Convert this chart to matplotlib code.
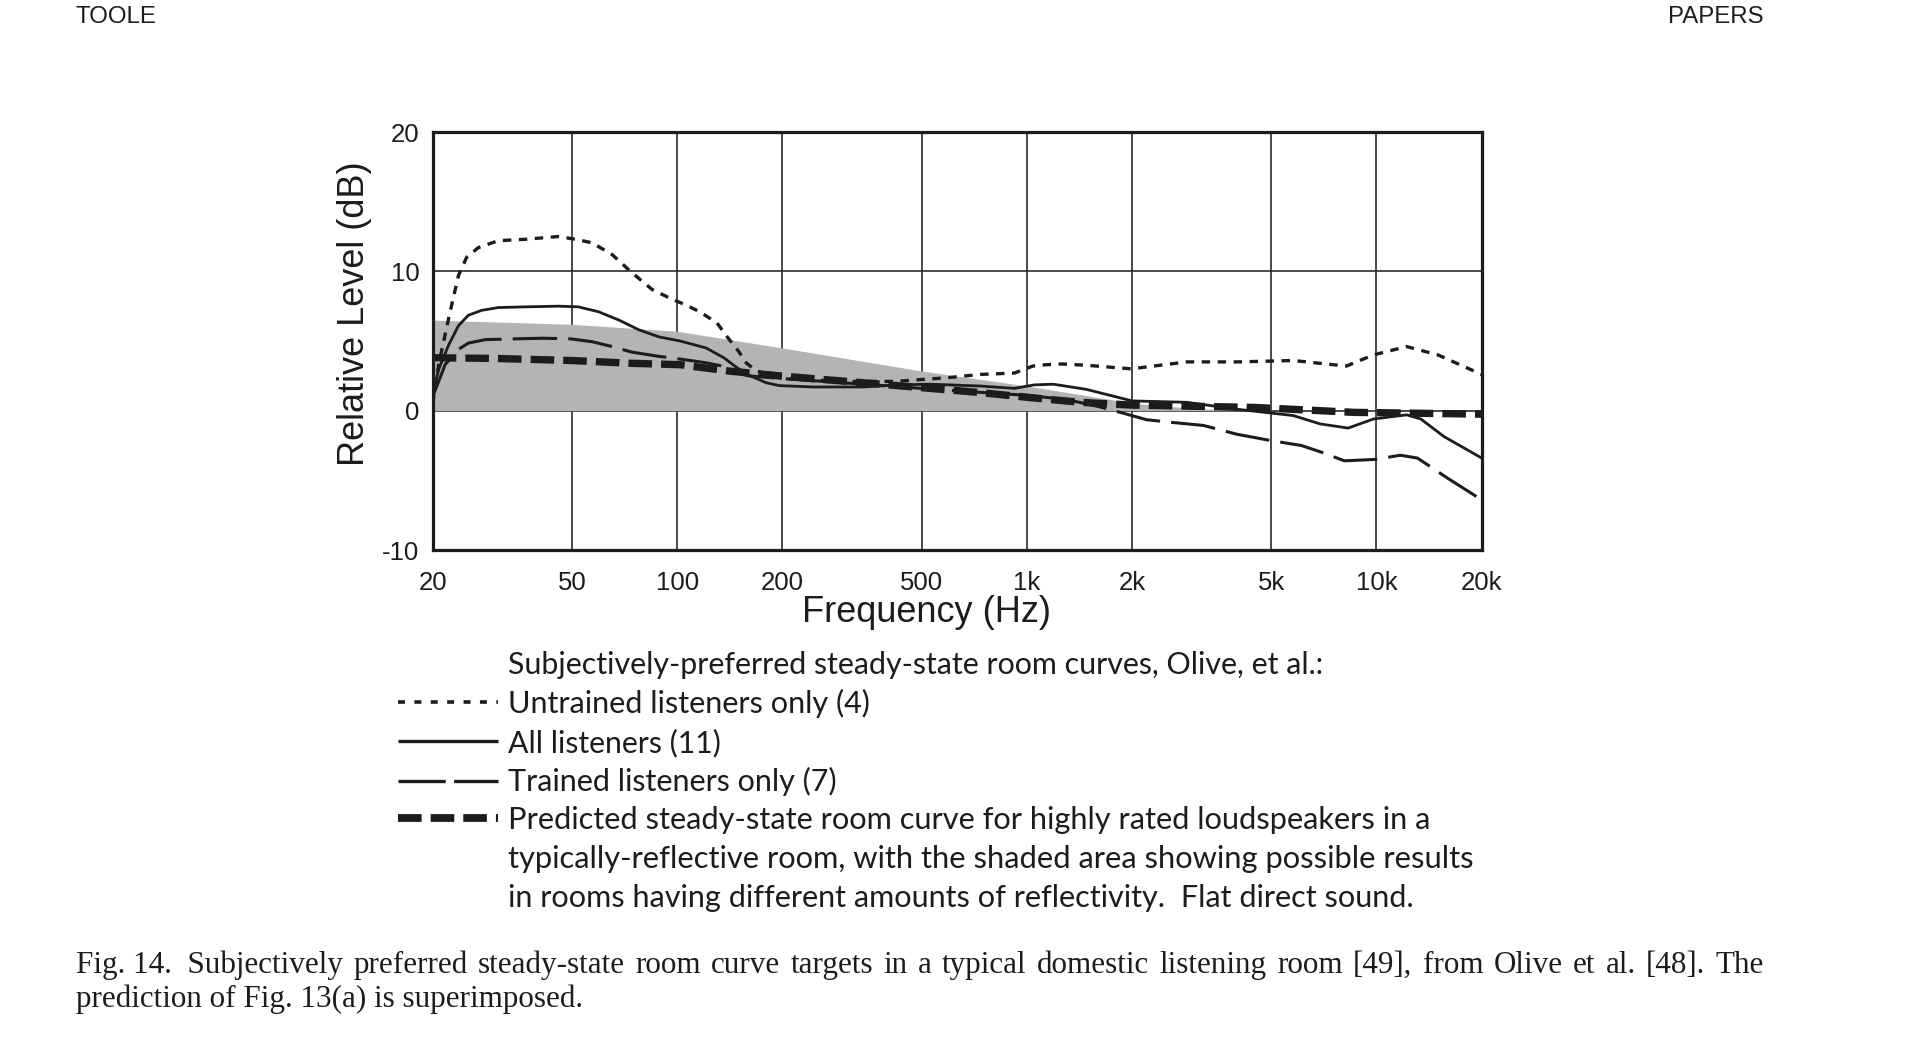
import matplotlib
matplotlib.use('Agg')
import matplotlib.pyplot as plt
from matplotlib.ticker import NullLocator

plt.rcParams['lines.scale_dashes'] = False

W, H = 1920, 1044
INK = '#1c1c1c'

# ---------------- data ----------------
untrained_f = [20, 20.8, 22.2, 23.7, 25, 27, 30.8, 36.8, 45.8, 51.2, 57.1, 65.2, 74.3, 84.8,
               96.7, 105.6, 116, 130, 140, 150, 158, 169, 200, 300, 420, 590, 735, 922,
               1040, 1140, 1260, 1480, 1990, 2870, 4000, 5780, 8200, 9800, 12200, 15000, 20000]
untrained_db = [0.5, 3.3, 6.6, 9.7, 11.0, 11.7, 12.2, 12.3, 12.5, 12.3, 12.05, 11.2, 9.9, 8.7,
                8.0, 7.6, 7.1, 6.3, 5.2, 4.25, 3.4, 2.84, 2.3, 2.1, 2.1, 2.36, 2.6, 2.7,
                3.2, 3.3, 3.35, 3.26, 3.0, 3.5, 3.5, 3.6, 3.2, 4.0, 4.6, 4.0, 2.6]

all_f = [20, 20.8, 22.2, 23.7, 25.3, 27.6, 30.8, 36.8, 45.8, 52.2, 59.6, 68.2, 77.8, 88.6,
         102, 121, 136, 148, 162, 180, 196, 245, 341, 424, 529, 735, 922, 1050, 1190, 1480,
         2000, 2870, 4000, 5780, 6900, 8300, 9800, 12200, 13400, 15600, 20000]
all_db = [1.2, 2.95, 4.7, 6.1, 6.85, 7.2, 7.4, 7.45, 7.5, 7.45, 7.1, 6.5, 5.8, 5.3,
          5.0, 4.5, 3.8, 3.1, 2.5, 2.0, 1.8, 1.7, 1.7, 1.85, 1.9, 1.77, 1.6, 1.85, 1.9, 1.53,
          0.7, 0.6, 0.1, -0.35, -0.95, -1.25, -0.6, -0.3, -0.6, -1.86, -3.4]

trained_f = [20, 21.7, 23.7, 25.3, 28.3, 33.9, 41.3, 49.7, 57.1, 65.2, 74.3, 88.6, 105.6,
             120, 135, 144, 160, 200, 300, 500, 700, 1000, 1300, 1600, 1900, 2200, 2570,
             3200, 4000, 5000, 6100, 7000, 8100, 9900, 11700, 13100, 16100, 20000]
trained_db = [1.0, 3.3, 4.4, 4.85, 5.1, 5.15, 5.2, 5.15, 4.95, 4.6, 4.2, 3.9, 3.65,
              3.45, 3.2, 2.8, 2.5, 2.3, 2.0, 1.6, 1.35, 1.1, 0.8, 0.3, -0.2, -0.65, -0.83,
              -1.06, -1.7, -2.15, -2.5, -3.0, -3.6, -3.5, -3.2, -3.4, -4.9, -6.4]

pred_f = [20, 30, 50, 74, 102, 141, 196, 306, 474, 735, 1020, 1420, 2000, 4500, 8600, 20000]
pred_db = [3.8, 3.75, 3.6, 3.4, 3.3, 2.84, 2.5, 2.1, 1.7, 1.3, 0.94, 0.6, 0.4, 0.23, -0.12, -0.25]

shade_f = [20, 50, 100, 200, 500, 1000, 2000, 3000, 4500]
shade_db = [6.5, 6.2, 5.7, 4.5, 2.85, 1.77, 0.55, 0.15, 0.0]

xticks = [20, 50, 100, 200, 500, 1000, 2000, 5000, 10000, 20000]
xtick_labels = ['20', '50', '100', '200', '500', '1k', '2k', '5k', '10k', '20k']
yticks = [-10, 0, 10, 20]
ytick_labels = ['-10', '0', '10', '20']

legend_heading = 'Subjectively-preferred steady-state room curves, Olive, et al.:'
legend_labels = ['Untrained listeners only (4)', 'All listeners (11)', 'Trained listeners only (7)',
                 'Predicted steady-state room curve for highly rated loudspeakers in a']
legend_extra = ['typically-reflective room, with the shaded area showing possible results',
                'in rooms having different amounts of reflectivity.  Flat direct sound.']
caption = ['Fig. 14.  Subjectively preferred steady-state room curve targets in a typical domestic '
           'listening room [49], from Olive et al. [48]. The',
           'prediction of Fig. 13(a) is superimposed.']

# ---------------- figure ----------------
fig = plt.figure(figsize=(W / 100, H / 100), dpi=100)
fig.patch.set_facecolor('white')


def px_rect(l, t, r, b):
    return [l / W, 1 - b / H, (r - l) / W, (b - t) / H]


ax = fig.add_axes(px_rect(432.7, 132, 1481.7, 550))
ax.set_xscale('log')
ax.set_xlim(20, 20000)
ax.set_ylim(-10, 20)
ax.set_xticks(xticks)
ax.set_xticklabels(xtick_labels)
ax.xaxis.set_minor_locator(NullLocator())
ax.set_yticks(yticks)
ax.set_yticklabels(ytick_labels)
ax.tick_params(axis='both', length=0, labelsize=18.5, colors=INK)
ax.tick_params(axis='x', pad=15)
ax.tick_params(axis='y', pad=9.5)
for lab in ax.get_xticklabels() + ax.get_yticklabels():
    lab.set_family('Liberation Sans')
ax.set_axisbelow(True)
ax.grid(True, color='#2a2a2a', lw=1.2)
for sp in ax.spines.values():
    sp.set_linewidth(2.3)
    sp.set_color(INK)
    sp.set_zorder(10)

ax.fill_between(shade_f, 0, shade_db, color='#b4b4b4', lw=0, zorder=1)
ax.plot(untrained_f, untrained_db, color=INK, lw=2.4, dashes=(6.1, 5.4),
        dash_capstyle='butt', zorder=3)
ax.plot(all_f, all_db, color=INK, lw=2.0, zorder=4)
ax.plot(trained_f, trained_db, color=INK, lw=2.2, dashes=(32, 8), dash_capstyle='butt', zorder=3)
ax.plot(pred_f, pred_db, color=INK, lw=5.3, dashes=(17, 6.5), dash_capstyle='butt', zorder=5)

# ---------------- overlay in pixel coordinates ----------------
ov = fig.add_axes([0, 0, 1, 1], zorder=20)
ov.set_xlim(0, W)
ov.set_ylim(H, 0)
ov.axis('off')
ov.patch.set_alpha(0)

renderer = fig.canvas.get_renderer()


def text_w(s, size, family):
    t = ov.text(0, 0, s, fontsize=size, family=family)
    w = t.get_window_extent(renderer=renderer).width
    t.remove()
    return w


def fit_size(s, target_w, family, base=20):
    return base * target_w / text_w(s, base, family)


# header
hs = fit_size('TOOLE', 81, 'Liberation Sans')
ov.text(76, 17, 'TOOLE', fontsize=hs, family='Liberation Sans', ha='left', va='center', color=INK)
ov.text(1764, 17, 'PAPERS', fontsize=hs, family='Liberation Sans', ha='right', va='center', color=INK)

# axis labels
ls = fit_size('Frequency (Hz)', 249, 'Liberation Sans')
ov.text(927, 613, 'Frequency (Hz)', fontsize=ls, family='Liberation Sans', ha='center', va='center',
        color=INK)
ov.text(354, 314, 'Relative Level (dB)', fontsize=ls, family='Liberation Sans', rotation=90,
        ha='center', va='center', color=INK)

# legend block
LF = 'Lato'
legend_lines = [legend_heading] + legend_labels + legend_extra
legend_right = [1326, 872, 721, 838, 1433, 1475, 1417]
baselines = [674, 713, 752, 791, 829, 868, 907]
base_size = fit_size(legend_heading, 819, LF)
for s, r, b in zip(legend_lines, legend_right, baselines):
    sz = fit_size(s, r - 508, LF)
    sz = min(max(sz, base_size * 0.98), base_size * 1.02)
    ov.text(508, b, s, fontsize=sz, family=LF, ha='left', va='baseline', color=INK)

sample_y = [702, 741, 781, 818]
ov.plot([398, 498], [sample_y[0]] * 2, color=INK, lw=2.6, dashes=(5.0, 6.8), dash_capstyle='butt')
ov.plot([398, 498], [sample_y[1]] * 2, color=INK, lw=2.4, solid_capstyle='butt')
ov.plot([398, 498], [sample_y[2]] * 2, color=INK, lw=2.4, dashes=(34, 6), dash_capstyle='butt')
ov.plot([398, 498], [sample_y[3]] * 2, color=INK, lw=5.6, dashes=(17, 6.5), dash_capstyle='butt')

# caption (first line justified between x=76 and x=1764)
CF = 'Liberation Serif'
cs = fit_size(caption[1], 509, CF)
words = caption[0].replace('Fig. 14.  ', 'Fig.\u00a014.\u00a0\u00a0').split(' ')
words = [w.replace('\u00a0', ' ') for w in words]
widths = [text_w(w, cs, CF) for w in words]
gap = (1764 - 76 - sum(widths)) / (len(words) - 1)
x = 76.0
for w, wd in zip(words, widths):
    ov.text(x, 973, w, fontsize=cs, family=CF, ha='left', va='baseline', color=INK)
    x += wd + gap
ov.text(76, 1007, caption[1], fontsize=cs, family=CF, ha='left', va='baseline', color=INK)

fig.savefig('out.png', dpi=100, facecolor='white')
